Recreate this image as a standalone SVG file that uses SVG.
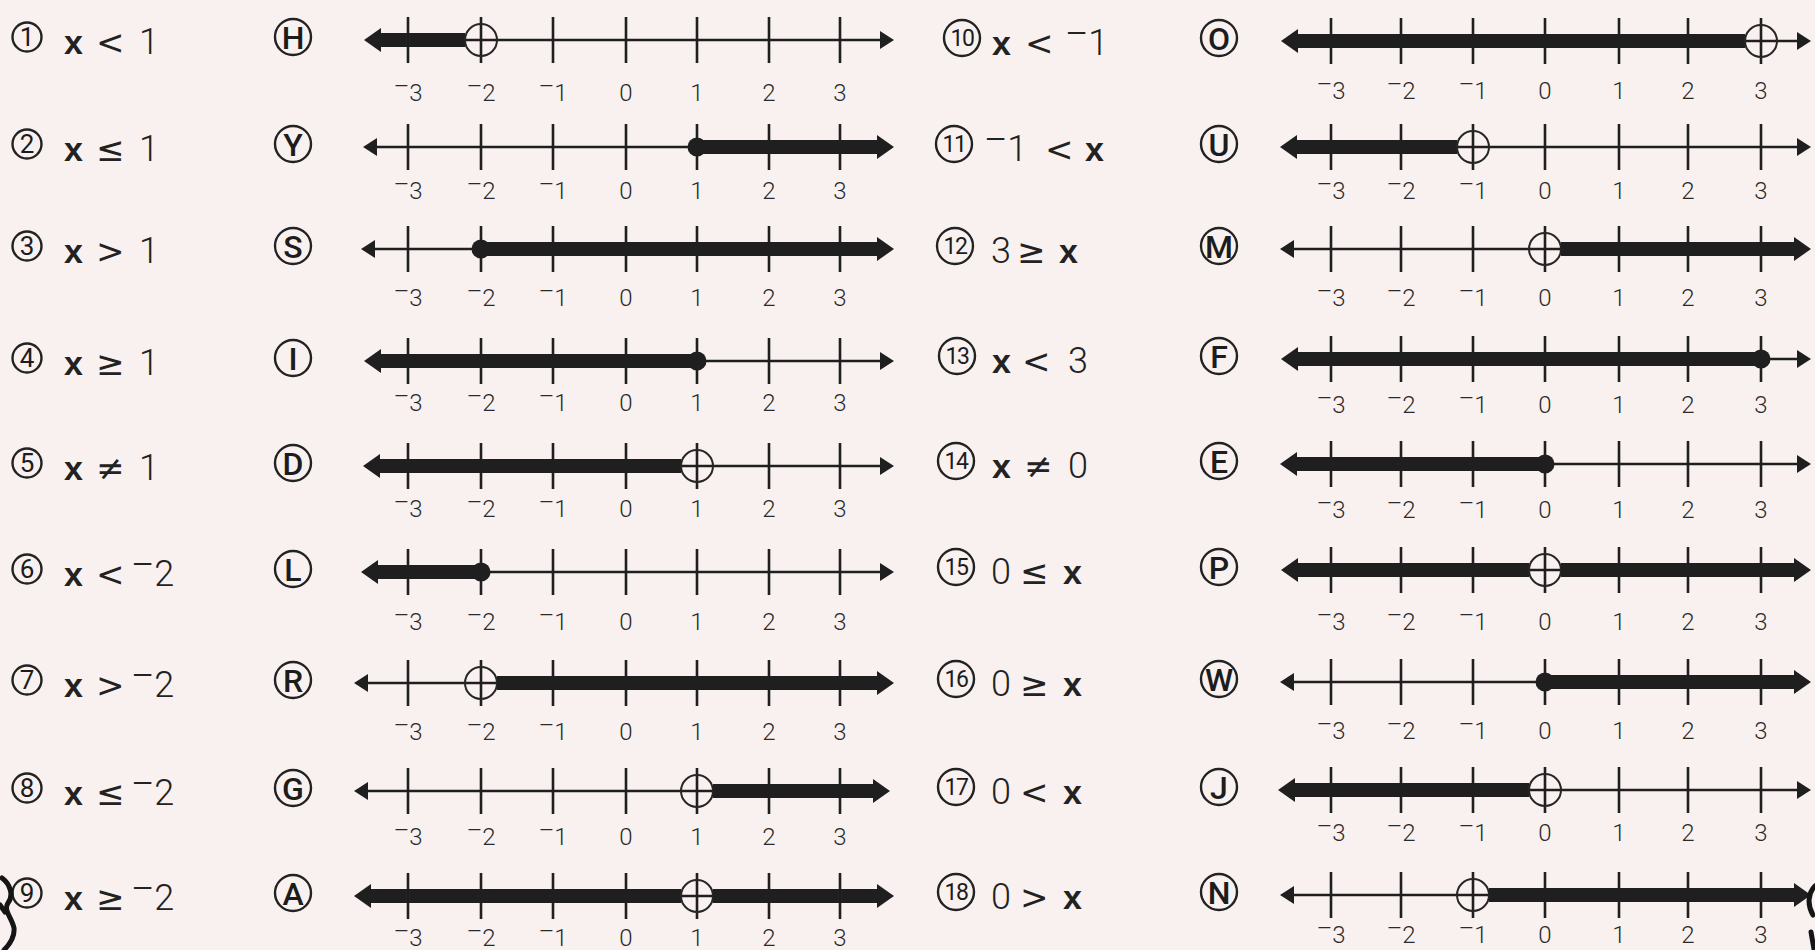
<svg xmlns="http://www.w3.org/2000/svg" width="1815" height="950" viewBox="0 0 1815 950">
<style>
.ax{stroke:#1f1f1f;stroke-width:2.5;fill:none}
.tk{stroke:#1f1f1f;stroke-width:2.6;fill:none}
.th{fill:#1f1f1f}
.oc{fill:none;stroke:#262626;stroke-width:2}
.nc{fill:none;stroke:#222;stroke-width:2.4}
.lb{font-family:Roboto,'DejaVu Sans',sans-serif;font-weight:300;font-size:24px;fill:#2a2a2a;text-anchor:middle}
.eq{font-family:Roboto,'DejaVu Sans',sans-serif;font-weight:300;font-size:36px;fill:#222}
.xv{font-family:'Liberation Sans',Arial,sans-serif;font-weight:700;font-size:34px}
.op{font-family:'DejaVu Sans',sans-serif;font-weight:400;font-size:34px}
.mn{font-family:'DejaVu Sans',sans-serif;font-weight:400;font-size:30px}
.me{font-family:'DejaVu Sans',sans-serif;font-weight:400;font-size:44px}
.nd{font-family:Roboto,'Liberation Sans',sans-serif;font-size:26px;fill:#1c1c1c;text-anchor:middle}
.nd2{font-size:23px;letter-spacing:-1.5px}
.lt{font-family:Roboto,'Liberation Sans',sans-serif;font-weight:500;font-size:32px;fill:#1c1c1c;text-anchor:middle}
.scrap{fill:none;stroke:#151515;stroke-width:5;stroke-linecap:round}
</style>
<defs>
<path id="tkL" class="tk" d="M408,-23V23M481,-23V23M553,-23V23M626,-23V23M697,-23V23M769,-23V23M840,-23V23"/>
<path id="tkR" class="tk" d="M1331,-23V23M1401,-23V23M1473,-23V23M1545,-23V23M1619,-23V23M1688,-23V23M1761,-23V23"/>
<path id="aLt" fill="#1f1f1f" d="M0,0L14,-9L14,9Z"/>
<path id="aRt" fill="#1f1f1f" d="M0,0L-14,-9L-14,9Z"/>
<path id="aLk" fill="#1f1f1f" d="M0,0L17,-12L17,12Z"/>
<path id="aRk" fill="#1f1f1f" d="M0,0L-17,-12L-17,12Z"/>
</defs>
<rect width="1815" height="950" fill="#f8f1ef"/>

<!-- LEFT COLUMN -->
<g id="q1">
<g id="q1-eq"><circle class="nc" cx="27" cy="37" r="14.5"/><text class="nd" x="27" y="46">1</text><text class="eq" y="54"><tspan class="xv" x="64">x</tspan><tspan class="op" x="96">&lt;</tspan><tspan x="139">1</tspan></text></g>
<g id="opt-H"><circle class="nc" cx="293" cy="37" r="18"/><text class="lt" x="293" y="48.5">H</text></g>
<g id="line-H" transform="translate(0,40)">
<path class="ax" d="M368,0H890"/><use href="#tkL"/>
<use href="#aLk" x="364"/><rect class="th" x="378" y="-7" width="87" height="14"/><circle class="oc" cx="481" r="16"/><use href="#aRt" x="894"/>
<text class="lb" y="61"><tspan x="408"><tspan class="mn">⁻</tspan>3</tspan><tspan x="481"><tspan class="mn">⁻</tspan>2</tspan><tspan x="553"><tspan class="mn">⁻</tspan>1</tspan><tspan x="626">0</tspan><tspan x="697">1</tspan><tspan x="769">2</tspan><tspan x="840">3</tspan></text>
</g>
</g>

<g id="q2">
<g id="q2-eq"><circle class="nc" cx="27" cy="144" r="14.5"/><text class="nd" x="27" y="153">2</text><text class="eq" y="161"><tspan class="xv" x="64">x</tspan><tspan class="op" x="96">≤</tspan><tspan x="139">1</tspan></text></g>
<g id="opt-Y"><circle class="nc" cx="293" cy="144" r="18"/><text class="lt" x="293" y="155.5">Y</text></g>
<g id="line-Y" transform="translate(0,147)">
<path class="ax" d="M367,0H890"/><use href="#tkL"/>
<use href="#aLt" x="363"/><circle class="th" cx="697" r="9.5"/><rect class="th" x="697" y="-7" width="183" height="14"/><use href="#aRk" x="894"/>
<text class="lb" y="52"><tspan x="408"><tspan class="mn">⁻</tspan>3</tspan><tspan x="481"><tspan class="mn">⁻</tspan>2</tspan><tspan x="553"><tspan class="mn">⁻</tspan>1</tspan><tspan x="626">0</tspan><tspan x="697">1</tspan><tspan x="769">2</tspan><tspan x="840">3</tspan></text>
</g>
</g>

<g id="q3">
<g id="q3-eq"><circle class="nc" cx="27" cy="246" r="14.5"/><text class="nd" x="27" y="255">3</text><text class="eq" y="263"><tspan class="xv" x="64">x</tspan><tspan class="op" x="96">&gt;</tspan><tspan x="139">1</tspan></text></g>
<g id="opt-S"><circle class="nc" cx="293" cy="246" r="18"/><text class="lt" x="293" y="257.5">S</text></g>
<g id="line-S" transform="translate(0,249)">
<path class="ax" d="M365,0H890"/><use href="#tkL"/>
<use href="#aLt" x="361"/><circle class="th" cx="481" r="9.5"/><rect class="th" x="481" y="-7" width="399" height="14"/><use href="#aRk" x="894"/>
<text class="lb" y="57"><tspan x="408"><tspan class="mn">⁻</tspan>3</tspan><tspan x="481"><tspan class="mn">⁻</tspan>2</tspan><tspan x="553"><tspan class="mn">⁻</tspan>1</tspan><tspan x="626">0</tspan><tspan x="697">1</tspan><tspan x="769">2</tspan><tspan x="840">3</tspan></text>
</g>
</g>

<g id="q4">
<g id="q4-eq"><circle class="nc" cx="27" cy="358" r="14.5"/><text class="nd" x="27" y="367">4</text><text class="eq" y="375"><tspan class="xv" x="64">x</tspan><tspan class="op" x="96">≥</tspan><tspan x="139">1</tspan></text></g>
<g id="opt-I"><circle class="nc" cx="293" cy="358" r="18"/><text class="lt" x="293" y="369.5">I</text></g>
<g id="line-I" transform="translate(0,361)">
<path class="ax" d="M368,0H890"/><use href="#tkL"/>
<use href="#aLk" x="364"/><rect class="th" x="378" y="-7" width="319" height="14"/><circle class="th" cx="697" r="9.5"/><use href="#aRt" x="894"/>
<text class="lb" y="50"><tspan x="408"><tspan class="mn">⁻</tspan>3</tspan><tspan x="481"><tspan class="mn">⁻</tspan>2</tspan><tspan x="553"><tspan class="mn">⁻</tspan>1</tspan><tspan x="626">0</tspan><tspan x="697">1</tspan><tspan x="769">2</tspan><tspan x="840">3</tspan></text>
</g>
</g>

<g id="q5">
<g id="q5-eq"><circle class="nc" cx="27" cy="463" r="14.5"/><text class="nd" x="27" y="472">5</text><text class="eq" y="480"><tspan class="xv" x="64">x</tspan><tspan class="op" x="96">≠</tspan><tspan x="139">1</tspan></text></g>
<g id="opt-D"><circle class="nc" cx="293" cy="463" r="18"/><text class="lt" x="293" y="474.5">D</text></g>
<g id="line-D" transform="translate(0,466)">
<path class="ax" d="M367,0H890"/><use href="#tkL"/>
<use href="#aLk" x="363"/><rect class="th" x="377" y="-7" width="304" height="14"/><circle class="oc" cx="697" r="16"/><use href="#aRt" x="894"/>
<text class="lb" y="51"><tspan x="408"><tspan class="mn">⁻</tspan>3</tspan><tspan x="481"><tspan class="mn">⁻</tspan>2</tspan><tspan x="553"><tspan class="mn">⁻</tspan>1</tspan><tspan x="626">0</tspan><tspan x="697">1</tspan><tspan x="769">2</tspan><tspan x="840">3</tspan></text>
</g>
</g>

<g id="q6">
<g id="q6-eq"><circle class="nc" cx="27" cy="569" r="14.5"/><text class="nd" x="27" y="578">6</text><text class="eq" y="586"><tspan class="xv" x="64">x</tspan><tspan class="op" x="96">&lt;</tspan><tspan x="131"><tspan class="me">⁻</tspan>2</tspan></text></g>
<g id="opt-L"><circle class="nc" cx="293" cy="569" r="18"/><text class="lt" x="293" y="580.5">L</text></g>
<g id="line-L" transform="translate(0,572)">
<path class="ax" d="M365,0H890"/><use href="#tkL"/>
<use href="#aLk" x="361"/><rect class="th" x="375" y="-7" width="106" height="14"/><circle class="th" cx="481" r="9.5"/><use href="#aRt" x="894"/>
<text class="lb" y="58"><tspan x="408"><tspan class="mn">⁻</tspan>3</tspan><tspan x="481"><tspan class="mn">⁻</tspan>2</tspan><tspan x="553"><tspan class="mn">⁻</tspan>1</tspan><tspan x="626">0</tspan><tspan x="697">1</tspan><tspan x="769">2</tspan><tspan x="840">3</tspan></text>
</g>
</g>

<g id="q7">
<g id="q7-eq"><circle class="nc" cx="27" cy="680" r="14.5"/><text class="nd" x="27" y="689">7</text><text class="eq" y="697"><tspan class="xv" x="64">x</tspan><tspan class="op" x="96">&gt;</tspan><tspan x="131"><tspan class="me">⁻</tspan>2</tspan></text></g>
<g id="opt-R"><circle class="nc" cx="293" cy="680" r="18"/><text class="lt" x="293" y="691.5">R</text></g>
<g id="line-R" transform="translate(0,683)">
<path class="ax" d="M358,0H890"/><use href="#tkL"/>
<use href="#aLt" x="354"/><circle class="oc" cx="481" r="16"/><rect class="th" x="497" y="-7" width="383" height="14"/><use href="#aRk" x="894"/>
<text class="lb" y="57"><tspan x="408"><tspan class="mn">⁻</tspan>3</tspan><tspan x="481"><tspan class="mn">⁻</tspan>2</tspan><tspan x="553"><tspan class="mn">⁻</tspan>1</tspan><tspan x="626">0</tspan><tspan x="697">1</tspan><tspan x="769">2</tspan><tspan x="840">3</tspan></text>
</g>
</g>

<g id="q8">
<g id="q8-eq"><circle class="nc" cx="27" cy="788" r="14.5"/><text class="nd" x="27" y="797">8</text><text class="eq" y="805"><tspan class="xv" x="64">x</tspan><tspan class="op" x="96">≤</tspan><tspan x="131"><tspan class="me">⁻</tspan>2</tspan></text></g>
<g id="opt-G"><circle class="nc" cx="293" cy="788" r="18"/><text class="lt" x="293" y="799.5">G</text></g>
<g id="line-G" transform="translate(0,791)">
<path class="ax" d="M358,0H886"/><use href="#tkL"/>
<use href="#aLt" x="354"/><circle class="oc" cx="697" r="16"/><rect class="th" x="713" y="-7" width="163" height="14"/><use href="#aRk" x="890"/>
<text class="lb" y="54"><tspan x="408"><tspan class="mn">⁻</tspan>3</tspan><tspan x="481"><tspan class="mn">⁻</tspan>2</tspan><tspan x="553"><tspan class="mn">⁻</tspan>1</tspan><tspan x="626">0</tspan><tspan x="697">1</tspan><tspan x="769">2</tspan><tspan x="840">3</tspan></text>
</g>
</g>

<g id="q9">
<g id="q9-eq"><circle class="nc" cx="27" cy="893" r="14.5"/><text class="nd" x="27" y="902">9</text><text class="eq" y="910"><tspan class="xv" x="64">x</tspan><tspan class="op" x="96">≥</tspan><tspan x="131"><tspan class="me">⁻</tspan>2</tspan></text></g>
<g id="opt-A"><circle class="nc" cx="293" cy="893" r="18"/><text class="lt" x="293" y="904.5">A</text></g>
<g id="line-A" transform="translate(0,896)">
<path class="ax" d="M358,0H890"/><use href="#tkL"/>
<use href="#aLk" x="354"/><rect class="th" x="368" y="-7" width="313" height="14"/><circle class="oc" cx="697" r="16"/><rect class="th" x="713" y="-7" width="167" height="14"/><use href="#aRk" x="894"/>
<text class="lb" y="50"><tspan x="408"><tspan class="mn">⁻</tspan>3</tspan><tspan x="481"><tspan class="mn">⁻</tspan>2</tspan><tspan x="553"><tspan class="mn">⁻</tspan>1</tspan><tspan x="626">0</tspan><tspan x="697">1</tspan><tspan x="769">2</tspan><tspan x="840">3</tspan></text>
</g>
</g>

<!-- RIGHT COLUMN -->
<g id="q10">
<g id="q10-eq"><circle class="nc" cx="962" cy="38" r="18"/><text class="nd nd2" x="962" y="46">10</text><text class="eq" y="55"><tspan class="xv" x="992">x</tspan><tspan class="op" x="1025">&lt;</tspan><tspan x="1065"><tspan class="me">⁻</tspan>1</tspan></text></g>
<g id="opt-O"><circle class="nc" cx="1219" cy="38" r="18"/><text class="lt" x="1219" y="49.5">O</text></g>
<g id="line-O" transform="translate(0,41)">
<path class="ax" d="M1285,0H1807"/><use href="#tkR"/>
<use href="#aLk" x="1281"/><rect class="th" x="1295" y="-7" width="450" height="14"/><circle class="oc" cx="1761" r="16"/><use href="#aRt" x="1811"/>
<text class="lb" y="58"><tspan x="1331"><tspan class="mn">⁻</tspan>3</tspan><tspan x="1401"><tspan class="mn">⁻</tspan>2</tspan><tspan x="1473"><tspan class="mn">⁻</tspan>1</tspan><tspan x="1545">0</tspan><tspan x="1619">1</tspan><tspan x="1688">2</tspan><tspan x="1761">3</tspan></text>
</g>
</g>

<g id="q11">
<g id="q11-eq"><circle class="nc" cx="954" cy="144" r="18"/><text class="nd nd2" x="954" y="152">11</text><text class="eq" y="161"><tspan x="984"><tspan class="me">⁻</tspan>1</tspan><tspan class="op" x="1045">&lt;</tspan><tspan class="xv" x="1085">x</tspan></text></g>
<g id="opt-U"><circle class="nc" cx="1219" cy="144" r="18"/><text class="lt" x="1219" y="155.5">U</text></g>
<g id="line-U" transform="translate(0,147)">
<path class="ax" d="M1284,0H1807"/><use href="#tkR"/>
<use href="#aLk" x="1280"/><rect class="th" x="1294" y="-7" width="163" height="14"/><circle class="oc" cx="1473" r="16"/><use href="#aRt" x="1811"/>
<text class="lb" y="52"><tspan x="1331"><tspan class="mn">⁻</tspan>3</tspan><tspan x="1401"><tspan class="mn">⁻</tspan>2</tspan><tspan x="1473"><tspan class="mn">⁻</tspan>1</tspan><tspan x="1545">0</tspan><tspan x="1619">1</tspan><tspan x="1688">2</tspan><tspan x="1761">3</tspan></text>
</g>
</g>

<g id="q12">
<g id="q12-eq"><circle class="nc" cx="955" cy="246" r="18"/><text class="nd nd2" x="955" y="254">12</text><text class="eq" y="263"><tspan x="991">3</tspan><tspan class="op" x="1017">≥</tspan><tspan class="xv" x="1059">x</tspan></text></g>
<g id="opt-M"><circle class="nc" cx="1219" cy="246" r="18"/><text class="lt" x="1219" y="257.5">M</text></g>
<g id="line-M" transform="translate(0,249)">
<path class="ax" d="M1284,0H1807"/><use href="#tkR"/>
<use href="#aLt" x="1280"/><circle class="oc" cx="1545" r="16"/><rect class="th" x="1561" y="-7" width="236" height="14"/><use href="#aRk" x="1811"/>
<text class="lb" y="57"><tspan x="1331"><tspan class="mn">⁻</tspan>3</tspan><tspan x="1401"><tspan class="mn">⁻</tspan>2</tspan><tspan x="1473"><tspan class="mn">⁻</tspan>1</tspan><tspan x="1545">0</tspan><tspan x="1619">1</tspan><tspan x="1688">2</tspan><tspan x="1761">3</tspan></text>
</g>
</g>

<g id="q13">
<g id="q13-eq"><circle class="nc" cx="957" cy="356" r="18"/><text class="nd nd2" x="957" y="364">13</text><text class="eq" y="373"><tspan class="xv" x="992">x</tspan><tspan class="op" x="1022">&lt;</tspan><tspan x="1068">3</tspan></text></g>
<g id="opt-F"><circle class="nc" cx="1219" cy="356" r="18"/><text class="lt" x="1219" y="367.5">F</text></g>
<g id="line-F" transform="translate(0,359)">
<path class="ax" d="M1285,0H1807"/><use href="#tkR"/>
<use href="#aLk" x="1281"/><rect class="th" x="1295" y="-7" width="466" height="14"/><circle class="th" cx="1761" r="9.5"/><use href="#aRt" x="1811"/>
<text class="lb" y="54"><tspan x="1331"><tspan class="mn">⁻</tspan>3</tspan><tspan x="1401"><tspan class="mn">⁻</tspan>2</tspan><tspan x="1473"><tspan class="mn">⁻</tspan>1</tspan><tspan x="1545">0</tspan><tspan x="1619">1</tspan><tspan x="1688">2</tspan><tspan x="1761">3</tspan></text>
</g>
</g>

<g id="q14">
<g id="q14-eq"><circle class="nc" cx="956" cy="461" r="18"/><text class="nd nd2" x="956" y="469">14</text><text class="eq" y="478"><tspan class="xv" x="992">x</tspan><tspan class="op" x="1024">≠</tspan><tspan x="1068">0</tspan></text></g>
<g id="opt-E"><circle class="nc" cx="1219" cy="461" r="18"/><text class="lt" x="1219" y="472.5">E</text></g>
<g id="line-E" transform="translate(0,464)">
<path class="ax" d="M1284,0H1807"/><use href="#tkR"/>
<use href="#aLk" x="1280"/><rect class="th" x="1294" y="-7" width="251" height="14"/><circle class="th" cx="1545" r="9.5"/><use href="#aRt" x="1811"/>
<text class="lb" y="54"><tspan x="1331"><tspan class="mn">⁻</tspan>3</tspan><tspan x="1401"><tspan class="mn">⁻</tspan>2</tspan><tspan x="1473"><tspan class="mn">⁻</tspan>1</tspan><tspan x="1545">0</tspan><tspan x="1619">1</tspan><tspan x="1688">2</tspan><tspan x="1761">3</tspan></text>
</g>
</g>

<g id="q15">
<g id="q15-eq"><circle class="nc" cx="956" cy="567" r="18"/><text class="nd nd2" x="956" y="575">15</text><text class="eq" y="584"><tspan x="991">0</tspan><tspan class="op" x="1020">≤</tspan><tspan class="xv" x="1063">x</tspan></text></g>
<g id="opt-P"><circle class="nc" cx="1219" cy="567" r="18"/><text class="lt" x="1219" y="578.5">P</text></g>
<g id="line-P" transform="translate(0,570)">
<path class="ax" d="M1285,0H1807"/><use href="#tkR"/>
<use href="#aLk" x="1281"/><rect class="th" x="1295" y="-7" width="234" height="14"/><circle class="oc" cx="1545" r="16"/><rect class="th" x="1561" y="-7" width="236" height="14"/><use href="#aRk" x="1811"/>
<text class="lb" y="60"><tspan x="1331"><tspan class="mn">⁻</tspan>3</tspan><tspan x="1401"><tspan class="mn">⁻</tspan>2</tspan><tspan x="1473"><tspan class="mn">⁻</tspan>1</tspan><tspan x="1545">0</tspan><tspan x="1619">1</tspan><tspan x="1688">2</tspan><tspan x="1761">3</tspan></text>
</g>
</g>

<g id="q16">
<g id="q16-eq"><circle class="nc" cx="956" cy="679" r="18"/><text class="nd nd2" x="956" y="687">16</text><text class="eq" y="696"><tspan x="991">0</tspan><tspan class="op" x="1020">≥</tspan><tspan class="xv" x="1063">x</tspan></text></g>
<g id="opt-W"><circle class="nc" cx="1219" cy="679" r="18"/><text class="lt" x="1219" y="690.5">W</text></g>
<g id="line-W" transform="translate(0,682)">
<path class="ax" d="M1284,0H1807"/><use href="#tkR"/>
<use href="#aLt" x="1280"/><circle class="th" cx="1545" r="9.5"/><rect class="th" x="1545" y="-7" width="252" height="14"/><use href="#aRk" x="1811"/>
<text class="lb" y="57"><tspan x="1331"><tspan class="mn">⁻</tspan>3</tspan><tspan x="1401"><tspan class="mn">⁻</tspan>2</tspan><tspan x="1473"><tspan class="mn">⁻</tspan>1</tspan><tspan x="1545">0</tspan><tspan x="1619">1</tspan><tspan x="1688">2</tspan><tspan x="1761">3</tspan></text>
</g>
</g>

<g id="q17">
<g id="q17-eq"><circle class="nc" cx="956" cy="787" r="18"/><text class="nd nd2" x="956" y="795">17</text><text class="eq" y="804"><tspan x="991">0</tspan><tspan class="op" x="1020">&lt;</tspan><tspan class="xv" x="1063">x</tspan></text></g>
<g id="opt-J"><circle class="nc" cx="1219" cy="787" r="18"/><text class="lt" x="1219" y="798.5">J</text></g>
<g id="line-J" transform="translate(0,790)">
<path class="ax" d="M1282,0H1807"/><use href="#tkR"/>
<use href="#aLk" x="1278"/><rect class="th" x="1292" y="-7" width="237" height="14"/><circle class="oc" cx="1545" r="16"/><use href="#aRt" x="1811"/>
<text class="lb" y="51"><tspan x="1331"><tspan class="mn">⁻</tspan>3</tspan><tspan x="1401"><tspan class="mn">⁻</tspan>2</tspan><tspan x="1473"><tspan class="mn">⁻</tspan>1</tspan><tspan x="1545">0</tspan><tspan x="1619">1</tspan><tspan x="1688">2</tspan><tspan x="1761">3</tspan></text>
</g>
</g>

<g id="q18">
<g id="q18-eq"><circle class="nc" cx="956" cy="892" r="18"/><text class="nd nd2" x="956" y="900">18</text><text class="eq" y="909"><tspan x="991">0</tspan><tspan class="op" x="1020">&gt;</tspan><tspan class="xv" x="1063">x</tspan></text></g>
<g id="opt-N"><circle class="nc" cx="1219" cy="892" r="18"/><text class="lt" x="1219" y="903.5">N</text></g>
<g id="line-N" transform="translate(0,895)">
<path class="ax" d="M1284,0H1807"/><use href="#tkR"/>
<use href="#aLt" x="1280"/><circle class="oc" cx="1473" r="16"/><rect class="th" x="1489" y="-7" width="308" height="14"/><use href="#aRk" x="1811"/>
<text class="lb" y="48"><tspan x="1331"><tspan class="mn">⁻</tspan>3</tspan><tspan x="1401"><tspan class="mn">⁻</tspan>2</tspan><tspan x="1473"><tspan class="mn">⁻</tspan>1</tspan><tspan x="1545">0</tspan><tspan x="1619">1</tspan><tspan x="1688">2</tspan><tspan x="1761">3</tspan></text>
</g>
</g>

<g id="connectors"></g>

<g id="edge-scraps">
<path class="scrap" d="M2,878C10,884 14,895 8,903C3,910 12,918 14,928C15,938 8,946 4,950"/>
<path class="scrap" d="M0,905L5,912"/>
<path class="scrap" d="M1815,886C1808,893 1807,905 1813,915"/>
<path class="scrap" d="M1811,932L1814,949"/>
</g>
</svg>
